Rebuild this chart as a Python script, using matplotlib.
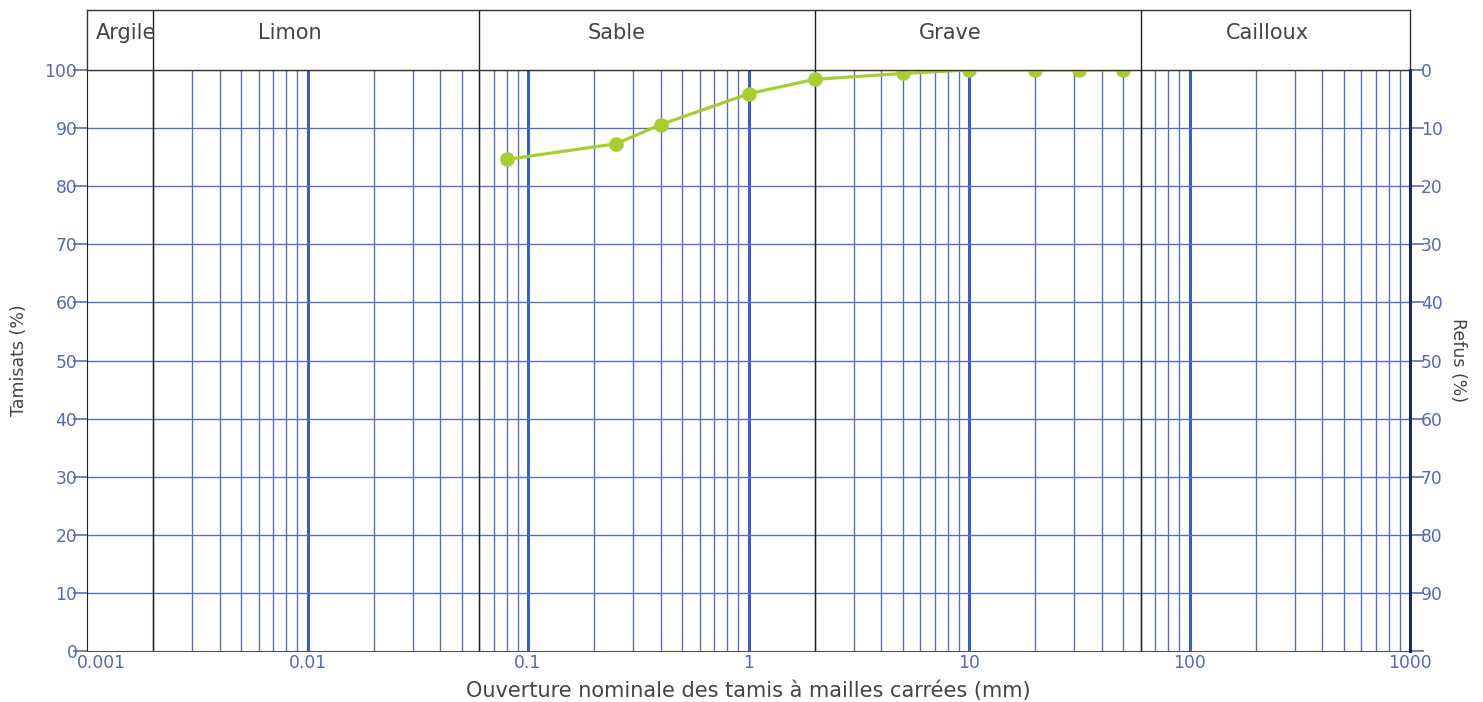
import numpy as np
import matplotlib
matplotlib.use("Agg")
import matplotlib.pyplot as plt
import matplotlib.transforms as mtransforms

# ---- data ----
sieve_mm = [0.08, 0.25, 0.4, 1, 2, 5, 10, 20, 31.5, 50]
passing_pct = [84.6, 87.3, 90.6, 95.9, 98.4, 99.4, 100, 100, 100, 100]

class_names = ["Argile", "Limon", "Sable", "Grave", "Cailloux"]
class_bounds = [0.001, 0.002, 0.06, 2, 60, 1000]

x_ticks = [0.001, 0.01, 0.1, 1, 10, 100, 1000]
x_ticklabels = ["0.001", "0.01", "0.1", "1", "10", "100", "1000"]
y_ticks = [0, 10, 20, 30, 40, 50, 60, 70, 80, 90, 100]

# ---- styles ----
W, H = 1483, 702
BLUE = "#5a6cc4"
BLUE_DARK = "#3d5cc8"
LABEL_BLUE = "#5567bb"
GREEN = "#a8cd32"
TXT = "#444444"
FS_TICK = 12.3
FS_TXT = 15
# horizontal nudge (px) of the class names, as in the original
name_shift_px = [6, -26, -30, -27, -8]

fig = plt.figure(figsize=(W / 100, H / 100), dpi=100)
L, R, B, T, TOP = 87, 1410, 651, 70, 10
ax = fig.add_axes([L / W, (H - B) / H, (R - L) / W, (B - T) / H])
band = fig.add_axes([L / W, (H - T) / H, (R - L) / W, (T - TOP) / H])

xmin, xmax = x_ticks[0], x_ticks[-1]
for a in (ax, band):
    a.set_xscale("log")
    a.set_xlim(xmin, xmax)

# vertical grid: 2..9 in each decade, thicker at decades
for d in x_ticks[:-1]:
    for k in range(2, 10):
        ax.axvline(d * k, color=BLUE, lw=1.0, zorder=1)
    if d > xmin:
        ax.axvline(d, color=BLUE_DARK, lw=2.2, zorder=1)

# horizontal grid
for yv in y_ticks[1:-1]:
    ax.axhline(yv, color=BLUE, lw=1.0, zorder=1)

# class boundaries
for b in class_bounds[1:-1]:
    ax.axvline(b, color="#222222", lw=1.0, zorder=2)
    band.axvline(b, color="#222222", lw=1.0)

# class names
for i, name in enumerate(class_names):
    lo, hi = class_bounds[i], class_bounds[i + 1]
    xc = np.sqrt(lo * hi)
    tr = band.get_xaxis_transform() + mtransforms.ScaledTranslation(
        name_shift_px[i] / 100, 0, fig.dpi_scale_trans)
    band.text(xc, 0.62, name, ha="center", va="center", fontsize=FS_TXT,
              color=TXT, transform=tr)

band.set_ylim(0, 1)
band.set_xticks([])
band.set_yticks([])
band.minorticks_off()
band.tick_params(which="both", length=0, labelbottom=False)
for s in band.spines.values():
    s.set_color("#333333")
    s.set_linewidth(1.0)

# curve
ax.plot(sieve_mm, passing_pct, color=GREEN, lw=2.3, marker="o", ms=9.5,
        mfc=GREEN, mec=GREEN, zorder=5, clip_on=False)

ax.set_ylim(0, 100)
ax.set_yticks(y_ticks)
ax.set_yticklabels([str(v) for v in y_ticks])
ax.set_xticks(x_ticks)
ax.set_xticklabels(x_ticklabels)
ax.minorticks_off()
ax.tick_params(axis="y", colors=BLUE, labelcolor=LABEL_BLUE, length=10,
               width=1.2, labelsize=FS_TICK, pad=-3)
ax.tick_params(axis="x", length=0, labelcolor=LABEL_BLUE, labelsize=FS_TICK, pad=2)
# first x label sits right of its tick
first = ax.get_xticklabels()[0]
first.set_transform(first.get_transform() +
                    mtransforms.ScaledTranslation(14 / 100, 0, fig.dpi_scale_trans))
for side in ("left", "top"):
    ax.spines[side].set_color("#222222")
ax.spines["bottom"].set_color("#555555")
ax.spines["right"].set_visible(False)

ax.set_ylabel("Tamisats (%)", fontsize=12.5, color=TXT, labelpad=12)
ax.set_xlabel("Ouverture nominale des tamis à mailles carrées (mm)",
              fontsize=FS_TXT, color=TXT, labelpad=6)

# right axis: refus
ax2 = ax.twinx()
ax2.set_ylim(100, 0)
ax2.set_yticks(y_ticks)
ax2.set_yticklabels([str(v) for v in y_ticks[:-1]] + [""])
ax2.tick_params(axis="y", colors=BLUE, labelcolor=LABEL_BLUE, length=10,
                width=1.2, labelsize=FS_TICK, pad=-2)
ax2.spines["right"].set_color("#1a2a6a")
ax2.spines["right"].set_linewidth(2.2)
for side in ("left", "top", "bottom"):
    ax2.spines[side].set_visible(False)
ax2.set_ylabel("Refus (%)", fontsize=12.5, color=TXT, rotation=-90,
               labelpad=17)

fig.savefig("out.png", dpi=100)
